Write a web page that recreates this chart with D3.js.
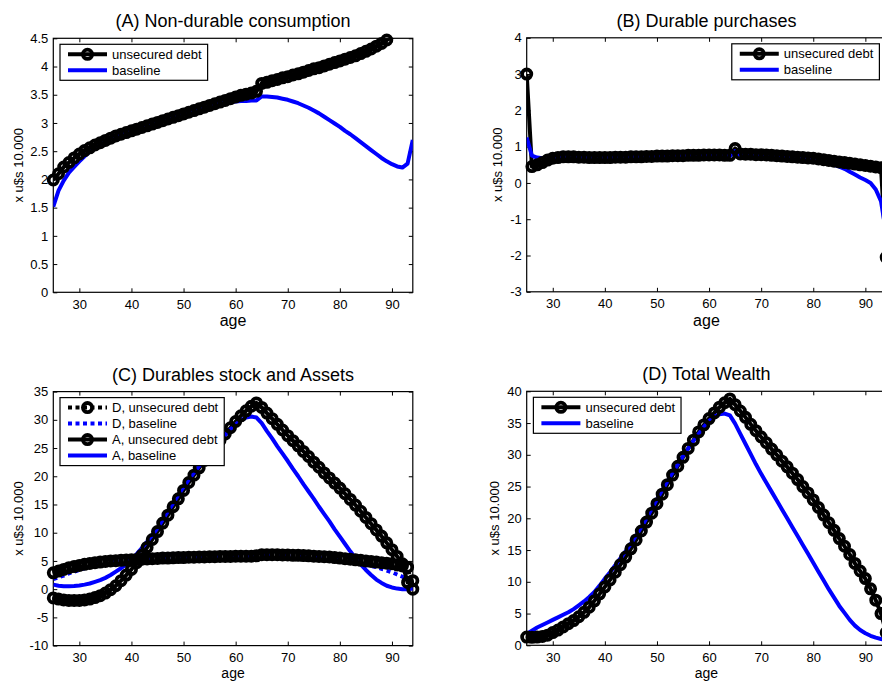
<!DOCTYPE html>
<html>
<head>
<meta charset="utf-8">
<script src="https://cdn.jsdelivr.net/npm/d3@7"></script>
<style>
  body { margin: 0; background: #fff; }
  svg { display: block; font-family: 'Liberation Sans', Arial, sans-serif; }
</style>
</head>
<body>
<svg id="chart" width="882" height="681"></svg>
<script>
// ages 25..94, one value per year
let ages = [25, 26, 27, 28, 29, 30, 31, 32, 33, 34,
  35, 36, 37, 38, 39, 40, 41, 42, 43, 44,
  45, 46, 47, 48, 49, 50, 51, 52, 53, 54,
  55, 56, 57, 58, 59, 60, 61, 62, 63, 64,
  65, 66, 67, 68, 69, 70, 71, 72, 73, 74,
  75, 76, 77, 78, 79, 80, 81, 82, 83, 84,
  85, 86, 87, 88, 89, 90, 91, 92, 93, 94]

// (A) non-durable consumption
let consUnsecured = [1.99, 2.10, 2.22, 2.30, 2.38, 2.45, 2.51, 2.56, 2.61, 2.65,
  2.69, 2.73, 2.77, 2.80, 2.83, 2.86, 2.89, 2.92, 2.95, 2.98,
  3.01, 3.04, 3.07, 3.10, 3.13, 3.16, 3.19, 3.22, 3.25, 3.28,
  3.31, 3.34, 3.37, 3.40, 3.43, 3.46, 3.49, 3.51, 3.53, 3.56,
  3.70, 3.72, 3.75, 3.77, 3.80, 3.82, 3.85, 3.87, 3.90, 3.93,
  3.96, 3.98, 4.01, 4.04, 4.07, 4.10, 4.13, 4.16, 4.19, 4.23,
  4.27, 4.31, 4.36, 4.41, 4.47, 4.52, 4.57, 4.62, 4.68, 4.74]
let consBaseline = [1.52, 1.80, 1.98, 2.12, 2.22, 2.32, 2.41, 2.49, 2.55, 2.61,
  2.67, 2.72, 2.77, 2.81, 2.85, 2.89, 2.93, 2.96, 2.99, 3.02,
  3.05, 3.08, 3.11, 3.14, 3.17, 3.20, 3.22, 3.24, 3.26, 3.28,
  3.30, 3.32, 3.34, 3.36, 3.37, 3.38, 3.39, 3.39, 3.40, 3.40,
  3.47, 3.47, 3.46, 3.45, 3.43, 3.41, 3.38, 3.35, 3.31, 3.27,
  3.22, 3.17, 3.11, 3.05, 2.99, 2.93, 2.86, 2.80, 2.73, 2.66,
  2.59, 2.52, 2.45, 2.38, 2.32, 2.27, 2.23, 2.21, 2.28, 2.70]

// (B) durable purchases
let purchUnsecured = [3.00, 0.45, 0.50, 0.56, 0.63, 0.68, 0.70, 0.72, 0.72, 0.72,
  0.71, 0.71, 0.70, 0.70, 0.70, 0.70, 0.70, 0.71, 0.71, 0.71,
  0.72, 0.72, 0.72, 0.73, 0.73, 0.74, 0.74, 0.74, 0.75, 0.75,
  0.75, 0.76, 0.76, 0.76, 0.77, 0.77, 0.77, 0.77, 0.76, 0.76,
  0.95, 0.80, 0.79, 0.79, 0.78, 0.78, 0.77, 0.76, 0.75, 0.74,
  0.73, 0.72, 0.71, 0.70, 0.69, 0.68, 0.66, 0.64, 0.62, 0.60,
  0.58, 0.56, 0.54, 0.52, 0.50, 0.48, 0.46, 0.44, 0.42, -2.05]
let purchBaseline = [1.25, 0.75, 0.70, 0.68, 0.70, 0.72, 0.73, 0.73, 0.73, 0.72,
  0.72, 0.71, 0.71, 0.71, 0.71, 0.71, 0.71, 0.72, 0.72, 0.72,
  0.73, 0.73, 0.73, 0.74, 0.74, 0.74, 0.74, 0.75, 0.75, 0.75,
  0.75, 0.75, 0.75, 0.75, 0.75, 0.75, 0.75, 0.75, 0.74, 0.74,
  0.88, 0.76, 0.75, 0.74, 0.73, 0.72, 0.71, 0.70, 0.69, 0.68,
  0.68, 0.67, 0.66, 0.65, 0.63, 0.62, 0.60, 0.57, 0.54, 0.50,
  0.45, 0.39, 0.31, 0.23, 0.15, 0.08, 0.00, -0.18, -0.50, -1.40]

// (C) durables stock (D) and assets (A)
let stockUnsecured = [2.9, 3.2, 3.5, 3.8, 4.0, 4.2, 4.4, 4.55, 4.7, 4.8,
  4.9, 5.0, 5.05, 5.1, 5.15, 5.2, 5.25, 5.3, 5.35, 5.4,
  5.45, 5.5, 5.5, 5.55, 5.6, 5.6, 5.65, 5.65, 5.7, 5.7,
  5.75, 5.75, 5.8, 5.8, 5.8, 5.85, 5.85, 5.85, 5.85, 5.9,
  6.1, 6.1, 6.1, 6.1, 6.05, 6.05, 6.0, 6.0, 5.95, 5.9,
  5.85, 5.8, 5.75, 5.7, 5.6, 5.5, 5.4, 5.3, 5.2, 5.1,
  5.0, 4.9, 4.8, 4.7, 4.6, 4.5, 4.3, 4.1, 3.9, 0.0]
let stockBaseline = [1.8, 2.1, 2.4, 2.8, 3.1, 3.4, 3.7, 3.9, 4.1, 4.3,
  4.5, 4.65, 4.8, 4.9, 5.0, 5.1, 5.15, 5.2, 5.25, 5.3,
  5.35, 5.4, 5.4, 5.45, 5.5, 5.5, 5.55, 5.55, 5.6, 5.6,
  5.6, 5.65, 5.65, 5.65, 5.7, 5.7, 5.7, 5.7, 5.7, 5.7,
  5.95, 5.9, 5.9, 5.9, 5.85, 5.85, 5.8, 5.75, 5.7, 5.65,
  5.6, 5.5, 5.4, 5.3, 5.2, 5.1, 4.95, 4.8, 4.65, 4.5,
  4.3, 4.1, 3.9, 3.6, 3.3, 3.0, 2.6, 2.2, 1.8, 1.4]
let assetsUnsecured = [-1.55, -1.75, -1.9, -2.0, -2.0, -2.0, -1.9, -1.75, -1.5, -1.15,
  -0.7, -0.1, 0.6, 1.5, 2.5, 3.5, 4.7, 6.0, 7.4, 8.8,
  10.2, 11.7, 13.1, 14.6, 16.0, 17.5, 18.9, 20.2, 21.5, 22.8,
  24.0, 25.2, 26.4, 27.5, 28.6, 29.7, 30.7, 31.6, 32.4, 33.0,
  32.2, 31.2, 30.2, 29.2, 28.2, 27.2, 26.3, 25.4, 24.4, 23.5,
  22.5, 21.6, 20.6, 19.7, 18.8, 17.9, 16.9, 15.9, 14.9, 13.8,
  12.7, 11.6, 10.5, 9.4, 8.2, 7.0, 5.8, 4.5, 1.2, 1.5]
let assetsBaseline = [0.8, 0.6, 0.5, 0.5, 0.55, 0.65, 0.8, 1.0, 1.3, 1.6,
  2.0, 2.5, 3.1, 3.7, 4.4, 5.2, 6.2, 7.3, 8.4, 9.6,
  10.8, 12.3, 13.8, 15.2, 16.7, 18.1, 19.4, 20.6, 21.8, 22.9,
  24.0, 25.2, 26.3, 27.3, 28.3, 29.2, 29.9, 30.4, 30.6, 30.4,
  29.4, 28.0, 26.7, 25.3, 24.0, 22.7, 21.3, 20.0, 18.6, 17.3,
  16.0, 14.6, 13.3, 12.0, 10.6, 9.3, 8.0, 6.7, 5.5, 4.4,
  3.4, 2.5, 1.7, 1.1, 0.6, 0.3, 0.1, 0.0, 0.0, 0.1]

// (D) total wealth
let wealthUnsecured = [1.3, 1.25, 1.3, 1.4, 1.6, 2.0, 2.4, 2.9, 3.4, 3.9,
  4.5, 5.2, 6.0, 7.0, 8.1, 9.2, 10.3, 11.5, 12.7, 13.9,
  15.2, 16.6, 18.0, 19.4, 20.8, 22.3, 23.8, 25.3, 26.8, 28.2,
  29.6, 31.0, 32.3, 33.6, 34.7, 35.7, 36.6, 37.5, 38.2, 38.8,
  37.9, 36.9, 35.9, 34.8, 33.8, 32.8, 31.9, 30.9, 30.0, 29.0,
  28.1, 27.1, 26.1, 25.0, 24.0, 22.9, 21.7, 20.5, 19.3, 18.1,
  16.8, 15.6, 14.3, 12.9, 11.7, 10.5, 8.9, 7.1, 5.0, 2.0]
let wealthBaseline = [1.8, 2.3, 2.8, 3.2, 3.6, 4.0, 4.4, 4.8, 5.2, 5.7,
  6.3, 6.9, 7.6, 8.4, 9.4, 10.5, 11.5, 12.6, 13.7, 14.8,
  16.0, 17.3, 18.6, 20.0, 21.5, 23.0, 24.4, 25.8, 27.2, 28.5,
  29.8, 31.0, 32.2, 33.3, 34.4, 35.3, 36.0, 36.4, 36.5, 36.2,
  34.9, 33.3, 31.7, 30.1, 28.5, 27.0, 25.6, 24.2, 22.8, 21.4,
  20.0, 18.6, 17.2, 15.8, 14.4, 13.0, 11.6, 10.2, 8.8, 7.5,
  6.2, 5.1, 4.0, 3.1, 2.4, 1.9, 1.5, 1.2, 1.0, 0.8]

let xTicks = [30, 40, 50, 60, 70, 80, 90]
let ticksA = [0, 0.5, 1, 1.5, 2, 2.5, 3, 3.5, 4, 4.5]
let ticksB = [-3, -2, -1, 0, 1, 2, 3, 4]
let ticksC = [-10, -5, 0, 5, 10, 15, 20, 25, 30, 35]
let ticksD = [0, 5, 10, 15, 20, 25, 30, 35, 40]

let width = 882
let height = 681
let pw = 359.5
let ph = 254

let panels = [
  {
    title: '(A) Non-durable consumption', x: 53.3, y: 38.3, yDomain: [0, 4.5], yTicks: ticksA,
    labelOffset: 35, legendRight: false,
    series: [
      { label: 'unsecured debt', values: consUnsecured, color: '#000', markers: true },
      { label: 'baseline', values: consBaseline, color: '#0000ff' }
    ]
  },
  {
    title: '(B) Durable purchases', x: 526.7, y: 37.8, yDomain: [-3, 4], yTicks: ticksB,
    labelOffset: 29, legendRight: true,
    series: [
      { label: 'unsecured debt', values: purchUnsecured, color: '#000', markers: true },
      { label: 'baseline', values: purchBaseline, color: '#0000ff' }
    ]
  },
  {
    title: '(C) Durables stock and Assets', x: 53.3, y: 391.6, yDomain: [-10, 35], yTicks: ticksC,
    labelOffset: 35, legendRight: false,
    series: [
      { label: 'D, unsecured debt', values: stockUnsecured, color: '#000', markers: true, dotted: true },
      { label: 'D, baseline', values: stockBaseline, color: '#0000ff', dotted: true },
      { label: 'A, unsecured debt', values: assetsUnsecured, color: '#000', markers: true },
      { label: 'A, baseline', values: assetsBaseline, color: '#0000ff' }
    ]
  },
  {
    title: '(D) Total Wealth', x: 526.7, y: 391.3, yDomain: [0, 40], yTicks: ticksD,
    labelOffset: 32, legendRight: false,
    series: [
      { label: 'unsecured debt', values: wealthUnsecured, color: '#000', markers: true },
      { label: 'baseline', values: wealthBaseline, color: '#0000ff' }
    ]
  }
]

let svg = d3.select('#chart')

let xScale = d3.scaleLinear().domain([25, 94]).range([0, pw])

let markerR = 4.6
let markerW = 3.8

panels.forEach((p, i) => {
  let yScale = d3.scaleLinear().domain(p.yDomain).range([ph, 0])

  let g = svg.append('g').attr('transform', `translate(${p.x},${p.y})`)

  g.append('clipPath')
    .attr('id', `clip-${i}`)
    .append('rect')
    .attr('width', pw)
    .attr('height', ph)

  // ticks on all four sides, pointing in
  let bottom = g.append('g')
    .attr('transform', `translate(0,${ph})`)
    .call(d3.axisBottom(xScale).tickValues(xTicks).tickSizeInner(-4).tickSizeOuter(0).tickPadding(7))
  let top = g.append('g')
    .call(d3.axisTop(xScale).tickValues(xTicks).tickSizeInner(-4).tickSizeOuter(0).tickFormat(''))
  let left = g.append('g')
    .call(d3.axisLeft(yScale).tickValues(p.yTicks).tickSizeInner(-4).tickSizeOuter(0).tickPadding(5).tickFormat(d => String(d)))
  let right = g.append('g')
    .attr('transform', `translate(${pw},0)`)
    .call(d3.axisRight(yScale).tickValues(p.yTicks).tickSizeInner(-4).tickSizeOuter(0).tickFormat(''))

  ;[bottom, top, left, right].forEach(a => {
    a.select('.domain').remove()
    a.selectAll('line').attr('stroke', '#000')
    a.selectAll('text')
      .attr('font-family', "'Liberation Sans', Arial, sans-serif")
      .attr('font-size', 13)
      .attr('fill', '#000')
  })

  g.append('rect')
    .attr('width', pw)
    .attr('height', ph)
    .attr('fill', 'none')
    .attr('stroke', '#000')
    .attr('stroke-width', 1.2)

  let line = d3.line()
    .x((d, j) => xScale(ages[j]))
    .y(d => yScale(d))

  let plot = g.append('g').attr('clip-path', `url(#clip-${i})`)
  let marks = g.append('g')

  p.series.forEach(s => {
    plot.append('path')
      .datum(s.values)
      .attr('d', line)
      .attr('fill', 'none')
      .attr('stroke', s.color)
      .attr('stroke-width', 4)
      .attr('stroke-linejoin', 'round')
      .attr('stroke-dasharray', s.dotted ? '4,3.5' : null)

    if (s.markers) {
      let pts = s.values
        .map((v, j) => ({ age: ages[j], v: v }))
        .filter(d => d.v >= p.yDomain[0] && d.v <= p.yDomain[1])
      marks.selectAll(null)
        .data(pts)
        .enter()
        .append('circle')
        .attr('cx', d => xScale(d.age))
        .attr('cy', d => yScale(d.v))
        .attr('r', markerR)
        .attr('fill', 'none')
        .attr('stroke', s.color)
        .attr('stroke-width', markerW)
    }
  })

  // titles and labels
  g.append('text')
    .attr('x', pw / 2)
    .attr('y', -11)
    .attr('text-anchor', 'middle')
    .attr('font-size', 18)
    .text(p.title)

  // bottom row: x label squeezed a little so it stays on the page
  let lowRow = p.y + ph + 34 > height - 4
  g.append('text')
    .attr('x', pw / 2)
    .attr('y', lowRow ? height - 3 - p.y : ph + 34)
    .attr('text-anchor', 'middle')
    .attr('font-size', lowRow ? 14 : 16)
    .text('age')

  g.append('text')
    .attr('transform', `translate(${-p.labelOffset},${ph / 2})rotate(-90)`)
    .attr('text-anchor', 'middle')
    .attr('dy', '0.35em')
    .attr('font-size', 13)
    .text('x u$s 10.000')

  // legend
  let legend = g.append('g')
  let box = legend.append('rect')
    .attr('fill', '#fff')
    .attr('stroke', '#000')
    .attr('stroke-width', 1.2)

  let maxW = 0
  p.series.forEach((s, k) => {
    let cy = 10 + 16 * k
    legend.append('line')
      .attr('x1', 8)
      .attr('x2', 47)
      .attr('y1', cy)
      .attr('y2', cy)
      .attr('stroke', s.color)
      .attr('stroke-width', 4)
      .attr('stroke-dasharray', s.dotted ? '4,3.5' : null)
    if (s.markers) {
      legend.append('circle')
        .attr('cx', 27.5)
        .attr('cy', cy)
        .attr('r', markerR)
        .attr('fill', 'none')
        .attr('stroke', s.color)
        .attr('stroke-width', markerW)
    }
    let t = legend.append('text')
      .attr('x', 52)
      .attr('y', cy)
      .attr('dy', '0.35em')
      .attr('font-size', 13)
      .text(s.label)
    maxW = Math.max(maxW, t.node().getComputedTextLength())
  })

  let lw = 52 + maxW + 6
  let lh = 16 * p.series.length + 4
  box.attr('width', lw).attr('height', lh)
  let lx = p.legendRight ? pw - 6.8 - lw : 6.7
  legend.attr('transform', `translate(${lx},6)`)
})
</script>
</body>
</html>
